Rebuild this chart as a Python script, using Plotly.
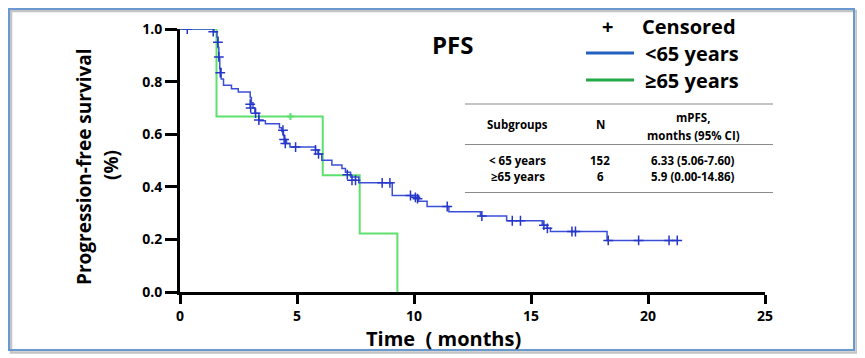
import plotly.graph_objects as go

# ---------------- data ----------------
blue_t = [0, 1.45, 1.58, 1.62, 1.66, 1.70, 1.76, 1.86, 2.2, 2.49, 3.0, 3.05, 3.12, 3.2,
          3.37, 3.65, 4.25, 4.35, 4.42, 4.48, 4.55, 4.7, 5.79, 5.9, 6.06, 6.49, 6.92,
          7.07, 7.29, 7.64, 9.07, 10.2, 10.56, 11.49, 12.84, 13.96, 15.48, 15.69, 15.83,
          18.25, 21.3]
blue_s = [1.0, 0.99, 0.97, 0.93, 0.89, 0.85, 0.81, 0.786, 0.773, 0.76, 0.74, 0.72, 0.70,
          0.68, 0.651, 0.64, 0.625, 0.61, 0.595, 0.58, 0.565, 0.551, 0.54, 0.525, 0.501,
          0.483, 0.470, 0.455, 0.437, 0.415, 0.367, 0.345, 0.325, 0.305, 0.289, 0.271,
          0.254, 0.242, 0.230, 0.196, 0.196]
blue_cens_t = [0.31, 1.42, 1.62, 1.66, 1.72, 3.0, 3.02, 3.23, 3.37, 4.4, 4.45, 4.5, 4.94,
               5.79, 5.92, 7.15, 7.35, 7.5, 8.64, 8.97, 9.85, 10.06, 10.15, 11.42, 12.9,
               14.2, 14.55, 15.55, 15.7, 16.75, 16.9, 18.3, 19.6, 20.9, 21.25]
blue_cens_s = [1.0, 0.99, 0.95, 0.894, 0.834, 0.714, 0.70, 0.68, 0.654, 0.615, 0.58, 0.565,
               0.551, 0.54, 0.525, 0.446, 0.425, 0.425, 0.415, 0.415, 0.367, 0.36, 0.355,
               0.325, 0.289, 0.271, 0.271, 0.254, 0.242, 0.23, 0.23, 0.196, 0.196, 0.196,
               0.196]
green_t = [0, 1.56, 6.1, 7.68, 9.29]
green_s = [1.0, 0.667, 0.444, 0.222, 0.0]
green_cens_t = [4.72]
green_cens_s = [0.667]

x_ticks = [0, 5, 10, 15, 20, 25]
y_ticks = [0.0, 0.2, 0.4, 0.6, 0.8, 1.0]
y_tick_text = ["0.0", "0.2", "0.4", "0.6", "0.8", "1.0"]

table_header = ["Subgroups", "N", "mPFS,", "months (95% CI)"]
table_rows = [["< 65 years", "152", "6.33 (5.06-7.60)"],
              ["≥65 years", "6", "5.9 (0.00-14.86)"]]
legend_labels = ["<65 years", "≥65 years"]

# ---------------- geometry helpers ----------------
OFF = 8                      # page body margin offset of the figure
W, H = 865 - OFF, 358 - OFF
L, T = 180 - OFF, 29 - OFF
R = W - (765 - OFF)
B = H - (292 - OFF)
PW, PH = W - L - R, H - T - B


def px(x):
    return (x - OFF - L) / PW


def py(y):
    return (H - B - (y - OFF)) / PH


BLUE = "#3a4fd6"
GREEN = "#5ee06e"
LEG_BLUE = "#2361be"
LEG_GREEN = "#22aa48"
FONT = "Open Sans"

fig = go.Figure()
fig.add_trace(go.Scatter(x=green_t, y=green_s, mode="lines", line_shape="hv",
                         line=dict(color=GREEN, width=2), hoverinfo="skip"))
fig.add_trace(go.Scatter(x=green_cens_t, y=green_cens_s, mode="markers",
                         marker=dict(symbol="cross-thin", size=5,
                                     line=dict(color=GREEN, width=2)), hoverinfo="skip"))
fig.add_trace(go.Scatter(x=blue_t, y=blue_s, mode="lines", line_shape="hv",
                         line=dict(color=BLUE, width=1.5), hoverinfo="skip"))
fig.add_trace(go.Scatter(x=blue_cens_t, y=blue_cens_s, mode="markers",
                         marker=dict(symbol="cross-thin", size=7,
                                     line=dict(color="#2536c8", width=1.5)), hoverinfo="skip"))

shapes = []
# outer frame with shadow
shapes.append(dict(type="rect", xref="paper", yref="paper",
                   x0=px(11), x1=px(856.5), y0=py(352.5), y1=py(11),
                   line=dict(color="#c4c4c4", width=2.5)))
shapes.append(dict(type="rect", xref="paper", yref="paper",
                   x0=px(9), x1=px(854), y0=py(350), y1=py(9),
                   line=dict(color="#6a98d0", width=2)))
# table rules
for yy in [104, 144.5, 192.5]:
    shapes.append(dict(type="line", xref="paper", yref="paper",
                       x0=px(465), x1=px(773), y0=py(yy), y1=py(yy),
                       line=dict(color="#8a8a8a", width=1.2)))
# legend line samples
shapes.append(dict(type="line", xref="paper", yref="paper",
                   x0=px(586), x1=px(634), y0=py(53), y1=py(53),
                   line=dict(color=LEG_BLUE, width=3)))
shapes.append(dict(type="line", xref="paper", yref="paper",
                   x0=px(586), x1=px(634), y0=py(80), y1=py(80),
                   line=dict(color=LEG_GREEN, width=3)))

ann = []


def text(x, y, s, size, xanchor="center", angle=0):
    ann.append(dict(x=px(x), y=py(y), xref="paper", yref="paper", text=s,
                    showarrow=False, xanchor=xanchor, yanchor="middle",
                    textangle=angle,
                    font=dict(family=FONT, size=size, color="#000", weight="bold")))


text(452, 45, "PFS", 24)
text(607, 26, "+", 20)
text(640, 26, "Censored", 20, xanchor="left")
text(643, 53, legend_labels[0], 20, xanchor="left")
text(643, 80, legend_labels[1], 20, xanchor="left")

col_x = [518, 600, 693]
text(col_x[0], 124, table_header[0], 11.5)
text(col_x[1], 124, table_header[1], 11.5)
text(col_x[2], 117, table_header[2], 11.5)
text(col_x[2], 135, table_header[3], 11.5)
for r, yy in zip(table_rows, [160, 177]):
    for c, xx in zip(r, col_x):
        text(xx, yy, c, 11.5)

text(443.5, 338, "Time\u00a0\u00a0( months)", 20)
text(84, 167, "Progression-free survival", 19, angle=-90)
text(111, 165, "(%)", 19, angle=-90)

fig.update_layout(
    width=W, height=H,
    margin=dict(l=L, r=R, t=T, b=B),
    paper_bgcolor="white", plot_bgcolor="white",
    showlegend=False,
    shapes=shapes, annotations=ann,
    xaxis=dict(range=[0, 25], tickvals=x_ticks, showgrid=False, zeroline=False,
               showline=True, linecolor="#000", linewidth=3,
               ticks="outside", ticklen=9, tickwidth=3, tickcolor="#000",
               tickfont=dict(family=FONT, size=14, color="#000", weight="bold")),
    yaxis=dict(range=[0, 1], tickvals=y_ticks, ticktext=y_tick_text, showgrid=False,
               zeroline=False, showline=True, linecolor="#000", linewidth=3,
               ticks="outside", ticklen=12, tickwidth=3, tickcolor="#000",
               tickfont=dict(family=FONT, size=14, color="#000", weight="bold")),
)

fig.write_html("out.html")
